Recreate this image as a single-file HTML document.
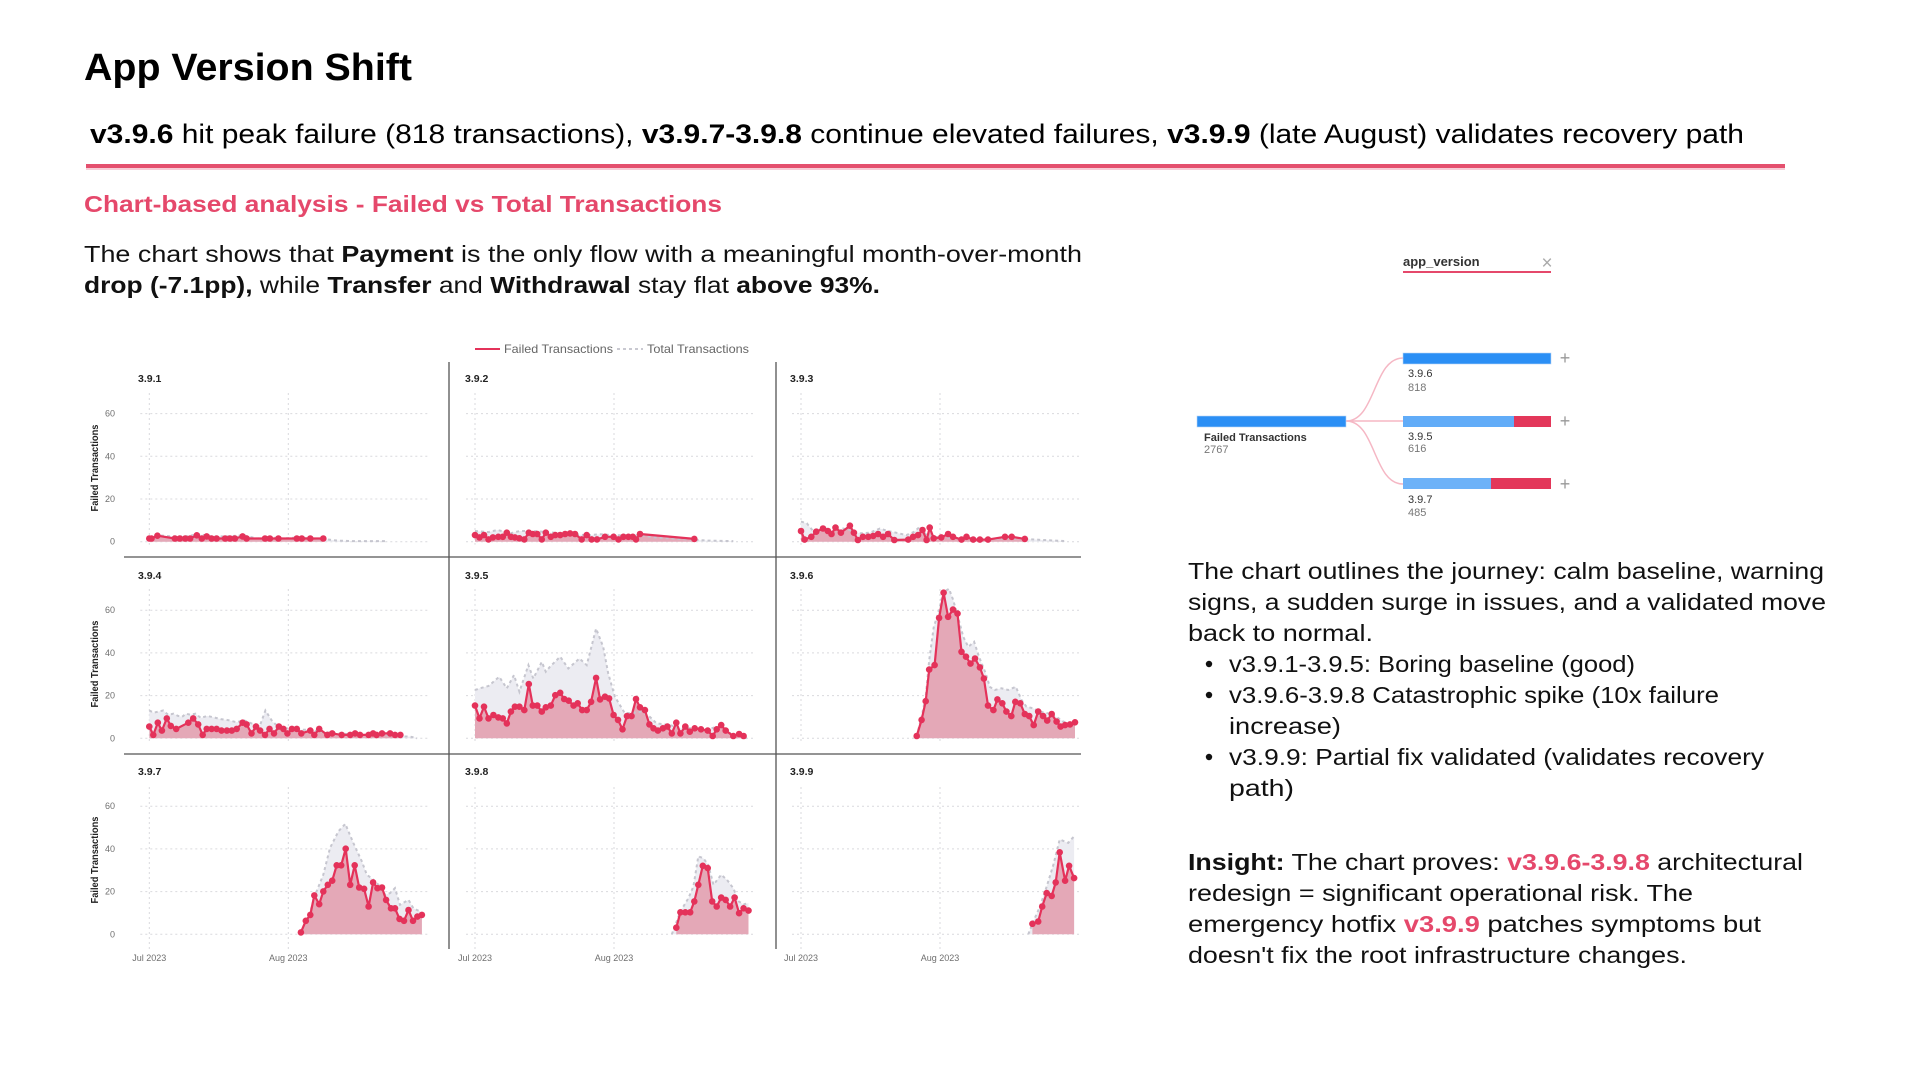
<!DOCTYPE html>
<html><head><meta charset="utf-8"><title>App Version Shift</title>
<style>
html,body{margin:0;padding:0;background:#fff;}
body{width:1920px;height:1080px;overflow:hidden;}
svg{display:block;font-family:"Liberation Sans",Arial,sans-serif;}
.g{stroke:#d9d9dd;stroke-width:1;stroke-dasharray:2,3;fill:none;}
.sep{stroke:#555;stroke-width:1.3;}
.tk{font-size:9px;fill:#6f6f6f;}
.pl{font-size:10.5px;font-weight:bold;fill:#222;}
.yt{font-size:10px;font-weight:bold;fill:#222;}
.body{font-size:23px;fill:#111;}
</style></head>
<body>
<svg id="page" width="1920" height="1080" viewBox="0 0 1920 1080">
<rect x="0" y="0" width="1920" height="1080" fill="#fff"/>
<text x="84" y="80" font-size="38" font-weight="bold" fill="#000" textLength="328" lengthAdjust="spacingAndGlyphs">App Version Shift</text>
<text x="90" y="143" font-size="27" fill="#000" textLength="1654" lengthAdjust="spacingAndGlyphs"><tspan font-weight="bold">v3.9.6</tspan> hit peak failure (818 transactions), <tspan font-weight="bold">v3.9.7-3.9.8</tspan> continue elevated failures, <tspan font-weight="bold">v3.9.9</tspan> (late August) validates recovery path</text>
<rect x="86" y="164" width="1699" height="4" fill="#e4506e"/>
<rect x="86" y="168" width="1699" height="2" fill="#f7ccd6"/>
<text x="84" y="212" font-size="23" font-weight="bold" fill="#e5486b" textLength="638" lengthAdjust="spacingAndGlyphs">Chart-based analysis - Failed vs Total Transactions</text>
<text x="84" y="262" class="body" textLength="998" lengthAdjust="spacingAndGlyphs">The chart shows that <tspan font-weight="bold">Payment</tspan> is the only flow with a meaningful month-over-month</text>
<text x="84" y="293" class="body" textLength="796" lengthAdjust="spacingAndGlyphs"><tspan font-weight="bold">drop (-7.1pp),</tspan> while <tspan font-weight="bold">Transfer</tspan> and <tspan font-weight="bold">Withdrawal</tspan> stay flat <tspan font-weight="bold">above 93%.</tspan></text>

<!-- legend -->
<line x1="475" y1="349" x2="500" y2="349" stroke="#e4325a" stroke-width="2"/>
<text x="504" y="353" font-size="12" fill="#666" textLength="109" lengthAdjust="spacingAndGlyphs">Failed Transactions</text>
<line x1="617" y1="349" x2="643" y2="349" stroke="#c9c9d1" stroke-width="2" stroke-dasharray="3,3"/>
<text x="647" y="353" font-size="12" fill="#666" textLength="102" lengthAdjust="spacingAndGlyphs">Total Transactions</text>

<g id="charts"></g>

<!-- decomposition tree -->
<text x="1403" y="266" font-size="13" font-weight="bold" fill="#333">app_version</text>
<rect x="1403" y="271" width="148" height="2" fill="#e5486b"/>
<text x="1547" y="269" font-size="19" fill="#aaa" text-anchor="middle">×</text>
<path d="M1346,421 C1376,421 1373,358 1403,358" stroke="#f5b7c4" stroke-width="1.5" fill="none"/>
<path d="M1346,421 L1403,421" stroke="#f5b7c4" stroke-width="1.5" fill="none"/>
<path d="M1346,421 C1376,421 1373,484 1403,484" stroke="#f5b7c4" stroke-width="1.5" fill="none"/>
<rect x="1197" y="416" width="149" height="11" fill="#2b8ff5" stroke="#b8d4f5" stroke-width="0.6"/>
<text x="1204" y="441" font-size="11" font-weight="bold" fill="#333">Failed Transactions</text>
<text x="1204" y="453" font-size="11" fill="#777">2767</text>
<rect x="1403" y="353" width="148" height="11" fill="#2b8ff5" stroke="#b8d4f5" stroke-width="0.6"/>
<rect x="1403" y="416" width="111" height="11" fill="#61acf8"/>
<rect x="1514" y="416" width="37" height="11" fill="#e3375a"/>
<rect x="1403" y="478" width="88" height="11" fill="#6db2f8"/>
<rect x="1491" y="478" width="60" height="11" fill="#e3375a"/>
<text x="1408" y="377" font-size="11" fill="#333">3.9.6</text>
<text x="1408" y="391" font-size="11" fill="#777">818</text>
<text x="1408" y="440" font-size="11" fill="#333">3.9.5</text>
<text x="1408" y="452" font-size="11" fill="#777">616</text>
<text x="1408" y="503" font-size="11" fill="#333">3.9.7</text>
<text x="1408" y="516" font-size="11" fill="#777">485</text>
<text x="1565" y="364" font-size="18" fill="#999" text-anchor="middle">+</text>
<text x="1565" y="427" font-size="18" fill="#999" text-anchor="middle">+</text>
<text x="1565" y="490" font-size="18" fill="#999" text-anchor="middle">+</text>

<!-- right text -->
<text x="1188" y="579" class="body" textLength="636" lengthAdjust="spacingAndGlyphs">The chart outlines the journey: calm baseline, warning</text>
<text x="1188" y="610" class="body" textLength="638" lengthAdjust="spacingAndGlyphs">signs, a sudden surge in issues, and a validated move</text>
<text x="1188" y="641" class="body" textLength="185" lengthAdjust="spacingAndGlyphs">back to normal.</text>
<circle cx="1209" cy="664" r="3.2" fill="#111"/>
<text x="1229" y="672" class="body" textLength="406" lengthAdjust="spacingAndGlyphs">v3.9.1-3.9.5: Boring baseline (good)</text>
<circle cx="1209" cy="695" r="3.2" fill="#111"/>
<text x="1229" y="703" class="body" textLength="490" lengthAdjust="spacingAndGlyphs">v3.9.6-3.9.8 Catastrophic spike (10x failure</text>
<text x="1229" y="734" class="body" textLength="112" lengthAdjust="spacingAndGlyphs">increase)</text>
<circle cx="1209" cy="757" r="3.2" fill="#111"/>
<text x="1229" y="765" class="body" textLength="535" lengthAdjust="spacingAndGlyphs">v3.9.9: Partial fix validated (validates recovery</text>
<text x="1229" y="796" class="body" textLength="65" lengthAdjust="spacingAndGlyphs">path)</text>

<text x="1188" y="870" class="body" textLength="615" lengthAdjust="spacingAndGlyphs"><tspan font-weight="bold">Insight:</tspan> The chart proves: <tspan font-weight="bold" fill="#e5486b">v3.9.6-3.9.8</tspan> architectural</text>
<text x="1188" y="901" class="body" textLength="505" lengthAdjust="spacingAndGlyphs">redesign = significant operational risk. The</text>
<text x="1188" y="932" class="body" textLength="573" lengthAdjust="spacingAndGlyphs">emergency hotfix <tspan font-weight="bold" fill="#e5486b">v3.9.9</tspan> patches symptoms but</text>
<text x="1188" y="963" class="body" textLength="499" lengthAdjust="spacingAndGlyphs">doesn't fix the root infrastructure changes.</text>
</svg>

<script>
(function(){
var J=[149.3,475,801], Z=[541.7,738.3,934.3], TOP=[393,589,787], PX=4.484, PY=2.135;
var P=[
{n:'3.9.1',
f:[[0,1.5],[0.5,1.5],[1.8,2.8],[5.7,1.5],[6.8,1.5],[8,1.5],[9.1,1.5],[10.6,3],[11.7,1.5],[12.8,2.5],[13.9,1.5],[15,1.5],[16.9,1.5],[18,1.5],[19.1,1.5],[20.8,2.5],[21.7,1.5],[25.8,1.5],[26.9,1.5],[28.8,1.5],[32.9,1.5],[34,1.5],[35.9,1.5],[38.8,1.5]],
t:[[0,2],[2,3],[5,2.5],[8,2.5],[11,3.5],[14,2.5],[17,2.5],[21,3],[24,1.5],[27,2],[30,1.5],[33,2],[36,1.5],[39,1.2],[42,0.5],[45,0.3],[48,0.3],[52.6,0.3]]},
{n:'3.9.2',
f:[[0,3.1],[1,2],[2,3.1],[3,1.1],[4,2],[5.2,2.3],[6.2,2.3],[7.1,4.2],[8,2.3],[8.9,2],[9.9,1.6],[11,1.1],[12,4.2],[12.9,3.6],[13.9,3.6],[14.9,1.1],[15.8,4.2],[16.9,2.3],[17.9,3.1],[19,3.1],[20.1,3.6],[21.2,3.9],[22.3,3.6],[23.8,1.1],[24.9,3.1],[26,1.1],[27.2,1.1],[29,2.3],[30.9,2.3],[32,1.1],[33.1,2.3],[34.2,2.3],[35.2,2.3],[35.9,1.1],[36.8,3.6],[48.9,1.3]],
t:[[0,5],[3,4.5],[5,5.5],[8,4],[10,5],[13,5],[16,4.5],[19,4],[22,3.5],[25,3],[28,3.5],[31,3],[34,3],[37,3],[40,2],[44,1.5],[48,1],[52,0.5],[57.6,0.3]]},
{n:'3.9.3',
f:[[0,5],[0.8,1],[2.3,2.3],[3.4,4.7],[4.9,6.2],[6,5],[6.8,3.6],[7.7,6.6],[8.9,4.2],[10.9,7.5],[11.8,4.2],[12.7,0.8],[13.8,2.3],[15,2.3],[16.1,2.7],[17.2,3.6],[18.3,2.3],[19.4,3.6],[20.8,0.8],[23.9,1],[25,2.3],[26.1,3.1],[27.1,5.5],[28,0.8],[28.7,6.6],[29.6,1.6],[31.3,2],[32.8,3.6],[33.9,2.3],[35.8,1],[36.9,2.3],[38.4,1],[39.9,1],[41.7,1],[45.5,2.3],[47,2.3],[49.9,1.3]],
t:[[0,9.4],[1.3,8.6],[2.7,5],[4.9,7],[6.8,4.7],[9.4,6.2],[11.6,5],[13.1,3.9],[15.3,4.2],[17.6,6.2],[19.4,5],[21.2,4.2],[23.5,3.1],[25.3,4.7],[26.5,7],[28,3.1],[29.2,2.3],[31.7,2],[35.4,1.6],[39.9,1],[42.9,1.2],[46.6,1.6],[50.3,1.2],[54,0.8],[58.9,0.3]]},
{n:'3.9.4',
f:[[0,5.5],[0.9,1.6],[1.9,7.3],[2.8,3.6],[3.9,9.3],[4.8,5.8],[6,4.4],[8.7,7.3],[9.8,9.3],[10.9,6.5],[11.9,1.6],[12.8,4.4],[13.9,4.4],[15,4.4],[16.1,3.6],[17.3,3.6],[18.4,3.6],[19.5,4.4],[20.8,7.3],[21.7,6.5],[22.8,2.3],[23.8,5.5],[24.7,3.6],[25.8,1.6],[26.8,4.4],[27.8,2.3],[28.9,5.5],[29.9,4.4],[30.8,2.3],[31.8,4.4],[32.9,4.4],[33.9,2.3],[35.9,3.6],[36.8,1.6],[37.9,4.4],[39.7,1.6],[40.8,2.3],[42.9,1.6],[44.8,1.6],[45.9,2.3],[47,1.6],[48.9,1.6],[49.9,2.3],[50.7,1.6],[51.9,2.3],[53.7,2.3],[54.8,1.6],[56,1.6]],
t:[[0,13],[1,12],[2,12.5],[3.1,13],[4.2,11],[5.4,11.5],[6.4,10.5],[7.3,10],[8.2,11.5],[9.2,11],[10.3,11.5],[11.5,9.5],[12.9,10.5],[14.4,9.8],[15.9,9],[17.7,8.5],[19.5,7.5],[21,8.5],[22.8,7],[24.7,6.2],[25.9,13],[27.4,8],[28.2,6.5],[29.7,5],[32.7,4],[35.6,4],[38.5,3],[44,2],[48.5,1.5],[52.3,1.5],[55,1],[58.2,0.8],[59.7,0]]},
{n:'3.9.5',
f:[[0,15.3],[1,9.3],[2,14.8],[3,9.3],[4.1,10.9],[5.2,9.8],[6.2,9.3],[7.1,7],[8,12.5],[8.9,14.8],[9.9,14.8],[11,13.2],[12,25.4],[12.9,15.3],[13.9,15.3],[14.9,12.5],[15.8,14.5],[16.9,15.3],[17.9,20.2],[19,21.3],[19.9,18.4],[20.9,17.6],[22,15.3],[22.9,16.4],[23.9,13.2],[24.9,13.2],[25.9,17.1],[27,28.3],[27.9,18.2],[29,19.5],[29.9,18.7],[30.9,10.9],[31.9,8.6],[32.9,4.2],[33.9,10.4],[34.9,10.4],[35.9,18.4],[36.8,14.5],[37.9,13.2],[38.9,6.5],[39.8,4.7],[40.8,3.6],[41.9,4.7],[42.9,5.5],[43.9,2.3],[44.9,7.3],[45.8,2.3],[46.9,5.5],[47.9,3.1],[49,4.7],[50.4,4.2],[51.9,3.6],[53,1.1],[53.9,4.2],[54.9,6.2],[55.9,3.6],[57.6,1.1],[58.9,2],[59.9,1.1]],
t:[[0,22.6],[1.1,23.4],[3,24.5],[5.4,28.8],[7.1,23.4],[8.7,29.6],[9.9,21.8],[11.9,34.3],[13,28],[14.9,35.8],[15.8,31.2],[16.7,33.5],[19,38.2],[20.8,32.7],[23.3,37.4],[24.9,34.3],[27,51.4],[28.6,42.8],[29.7,30.4],[31.2,19.5],[33.4,11.7],[35.3,12],[37.1,12.5],[39,10],[40.5,7],[43.5,6.2],[45.8,4.7],[48.7,4.7],[51.7,3.9],[53.9,5.5],[56.1,3],[58.3,1.5],[60.6,0]]},
{n:'3.9.6',
f:[[25.8,1.1],[26.9,8.6],[27.8,17.4],[28.6,32.2],[29.8,34.3],[30.8,56.4],[31.8,68.2],[32.8,56.9],[33.9,60.3],[34.9,58.4],[35.8,40.5],[36.8,38.2],[37.8,35],[38.8,37.4],[39.9,33.2],[40.8,28],[41.7,15.3],[42.9,13.2],[43.8,18.2],[44.9,16.4],[45.8,12.5],[46.9,10.4],[47.8,17.1],[48.9,16.4],[49.9,11.4],[50.9,10.4],[51.9,6.2],[52.9,12.5],[54,10.4],[54.9,8.3],[55.9,11.4],[57,7.8],[57.9,5.5],[58.9,6.2],[60,6.5],[61.1,7.5]],
t:[[25.8,1.1],[26.9,10],[27.8,19.5],[28.6,36.6],[29.6,52],[30.8,60],[31.7,68.5],[33,70],[33.9,65],[35,57],[36.2,47.5],[37.3,42.8],[38.6,45.2],[39.7,38.2],[41.2,30.4],[42.1,24.1],[43.2,22.6],[44.7,23.4],[46.2,22.6],[47.9,24.1],[49.2,17.9],[50.3,14.8],[51.8,14],[53.3,12.5],[55.1,11.7],[57,10],[58.5,7.8],[60,7],[61.1,8.6]]},
{n:'3.9.7',
f:[[33.8,0.9],[34.9,6.3],[35.9,9.1],[36.8,18.2],[37.9,14.1],[38.8,20.1],[39.8,23.2],[40.8,25.1],[41.8,32.3],[42.8,32.3],[43.8,40.1],[44.8,23.2],[45.8,32.3],[46.8,21.9],[47.9,21.3],[48.9,13],[49.9,24.3],[50.9,21.6],[51.9,21.9],[52.8,16.1],[53.9,12.2],[54.8,12.2],[55.8,7.2],[56.8,6.3],[57.8,11.4],[58.8,6.3],[59.8,8.3],[60.8,9.1]],
t:[[33.8,1.3],[35.9,10.7],[37,18.5],[38.8,27.9],[40.3,40.4],[42.2,48.3],[43.7,51.7],[45.5,42.8],[47.4,34.2],[48.5,27.9],[50,25.5],[51.5,22.4],[52.6,18.5],[53.7,19.3],[54.8,21.6],[55.9,13.8],[57.8,16.1],[58.9,12.2],[60.4,10.7],[60.8,9.8]]},
{n:'3.9.8',
f:[[44.9,3.1],[45.8,10.3],[46.9,10.3],[48,10.3],[48.9,15.4],[49.8,23.2],[50.8,32.1],[51.9,31],[52.9,15.4],[53.9,13],[54.9,17.2],[55.9,16.1],[56.9,13],[57.9,17.2],[58.9,9.9],[59.9,12.2],[61,11.1]],
t:[[43.9,0],[45.8,10.7],[47.6,16.9],[48.7,22.4],[49.8,36.5],[50.9,35.7],[52,32.6],[53.2,23.2],[54.9,27.9],[56.2,25.5],[57.6,21.6],[58.8,15.4],[59.9,14],[61,14.6]]},
{n:'3.9.9',
f:[[51.6,4.9],[52.9,6],[53.8,13],[54.8,19.3],[55.9,18],[56.8,24.3],[57.7,38.4],[58.9,25.1],[59.8,32.1],[60.9,26.3]],
t:[[50.7,0],[51.8,6],[53.3,13],[54.8,22.4],[56.3,32.6],[57.7,44.4],[59.6,42.8],[60.9,45.9]]}
];
var labX=[138,465,790], labY=[382,579,775], ytC=[468,664,860];
var h='';
function f1(v){return v.toFixed(1);}
for(var r=0;r<3;r++){for(var c=0;c<3;c++){
  var x0=J[c], z=Z[r];
  [0,20,40,60].forEach(function(v){var y=f1(z-v*PY);h+='<line class="g" x1="'+f1(x0-9)+'" x2="'+f1(x0+281)+'" y1="'+y+'" y2="'+y+'"/>';});
  [0,31].forEach(function(d){var x=f1(x0+d*PX);h+='<line class="g" x1="'+x+'" x2="'+x+'" y1="'+TOP[r]+'" y2="'+f1(z+(r==2?16:3))+'"/>';});
}}
P.forEach(function(p,i){
  var r=Math.floor(i/3), c=i%3, z=Z[r];
  function pts(a){return a.map(function(q){return [J[c]+q[0]*PX, z-q[1]*PY];});}
  function ln(Q){return 'M'+Q.map(function(q){return f1(q[0])+','+f1(q[1]);}).join(' L');}
  function ar(Q){return 'M'+f1(Q[0][0])+','+z+' L'+Q.map(function(q){return f1(q[0])+','+f1(q[1]);}).join(' L')+' L'+f1(Q[Q.length-1][0])+','+z+' Z';}
  var T=pts(p.t), F=pts(p.f);
  h+='<path d="'+ar(T)+'" fill="#ececf2"/>';
  h+='<path d="'+ar(F)+'" fill="#e4a8b7"/>';
  h+='<path d="'+ln(T)+'" fill="none" stroke="#c6c6cf" stroke-width="2" stroke-dasharray="3,3"/>';
  h+='<path d="'+ln(F)+'" fill="none" stroke="#e4325a" stroke-width="2.2" stroke-linejoin="round"/>';
  F.forEach(function(q){h+='<circle cx="'+f1(q[0])+'" cy="'+f1(q[1])+'" r="3.3" fill="#e4325a"/>';});
  h+='<text class="pl" x="'+labX[c]+'" y="'+labY[r]+'">'+p.n+'</text>';
});
for(var r=0;r<3;r++){
  [0,20,40,60].forEach(function(v){h+='<text class="tk" x="115" y="'+f1(Z[r]-v*PY+3)+'" text-anchor="end">'+v+'</text>';});
  h+='<text class="yt" transform="translate(98,'+ytC[r]+') rotate(-90)" text-anchor="middle" textLength="87" lengthAdjust="spacingAndGlyphs">Failed Transactions</text>';
}
for(var c=0;c<3;c++){
  h+='<text class="tk" x="'+f1(J[c])+'" y="961" text-anchor="middle">Jul 2023</text>';
  h+='<text class="tk" x="'+f1(J[c]+31*PX)+'" y="961" text-anchor="middle">Aug 2023</text>';
}
h+='<line class="sep" x1="449" x2="449" y1="362" y2="949"/>';
h+='<line class="sep" x1="776" x2="776" y1="362" y2="949"/>';
h+='<line class="sep" x1="124" x2="1081" y1="557" y2="557"/>';
h+='<line class="sep" x1="124" x2="1081" y1="754" y2="754"/>';
document.getElementById('charts').innerHTML=h;
})();
</script>
</body></html>
